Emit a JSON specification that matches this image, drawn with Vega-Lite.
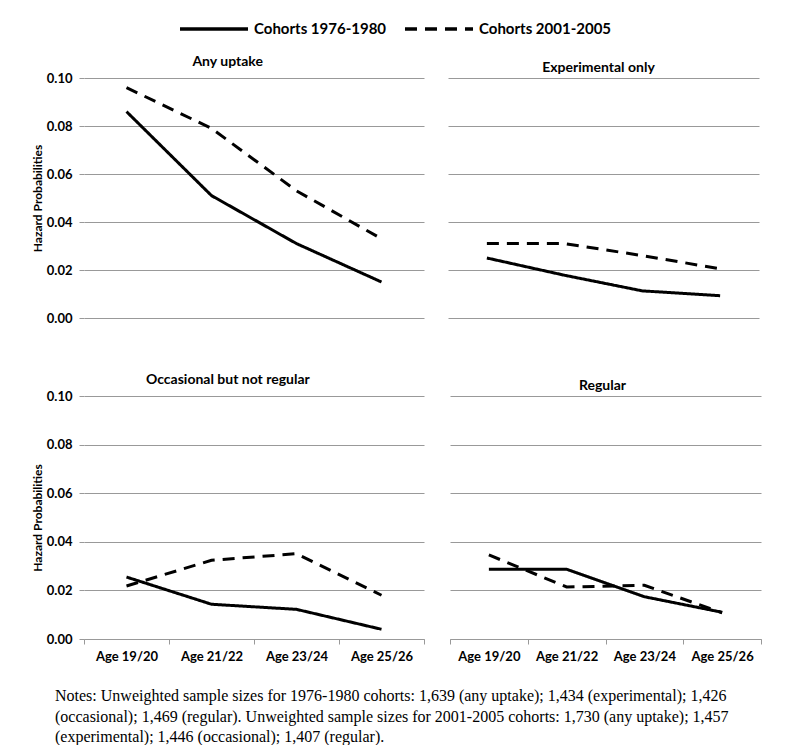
{
  "$schema": "https://vega.github.io/schema/vega-lite/v6.json",
  "padding": {"top": 20, "left": 31, "right": 8, "bottom": 0},
  "background": "white",
  "datasets": {
    "hz": [
      {"panel": "Any uptake", "age": "Age 19/20", "cohort": "Cohorts 1976-1980", "value": 0.086},
      {"panel": "Any uptake", "age": "Age 21/22", "cohort": "Cohorts 1976-1980", "value": 0.051},
      {"panel": "Any uptake", "age": "Age 23/24", "cohort": "Cohorts 1976-1980", "value": 0.031},
      {"panel": "Any uptake", "age": "Age 25/26", "cohort": "Cohorts 1976-1980", "value": 0.015},
      {"panel": "Any uptake", "age": "Age 19/20", "cohort": "Cohorts 2001-2005", "value": 0.096},
      {"panel": "Any uptake", "age": "Age 21/22", "cohort": "Cohorts 2001-2005", "value": 0.079},
      {"panel": "Any uptake", "age": "Age 23/24", "cohort": "Cohorts 2001-2005", "value": 0.053},
      {"panel": "Any uptake", "age": "Age 25/26", "cohort": "Cohorts 2001-2005", "value": 0.033},
      {"panel": "Experimental only", "age": "Age 19/20", "cohort": "Cohorts 1976-1980", "value": 0.025},
      {"panel": "Experimental only", "age": "Age 21/22", "cohort": "Cohorts 1976-1980", "value": 0.0178},
      {"panel": "Experimental only", "age": "Age 23/24", "cohort": "Cohorts 1976-1980", "value": 0.0113},
      {"panel": "Experimental only", "age": "Age 25/26", "cohort": "Cohorts 1976-1980", "value": 0.0093},
      {"panel": "Experimental only", "age": "Age 19/20", "cohort": "Cohorts 2001-2005", "value": 0.031},
      {"panel": "Experimental only", "age": "Age 21/22", "cohort": "Cohorts 2001-2005", "value": 0.031},
      {"panel": "Experimental only", "age": "Age 23/24", "cohort": "Cohorts 2001-2005", "value": 0.026},
      {"panel": "Experimental only", "age": "Age 25/26", "cohort": "Cohorts 2001-2005", "value": 0.0205},
      {"panel": "Occasional but not regular", "age": "Age 19/20", "cohort": "Cohorts 1976-1980", "value": 0.0255},
      {"panel": "Occasional but not regular", "age": "Age 21/22", "cohort": "Cohorts 1976-1980", "value": 0.0143},
      {"panel": "Occasional but not regular", "age": "Age 23/24", "cohort": "Cohorts 1976-1980", "value": 0.0122},
      {"panel": "Occasional but not regular", "age": "Age 25/26", "cohort": "Cohorts 1976-1980", "value": 0.004},
      {"panel": "Occasional but not regular", "age": "Age 19/20", "cohort": "Cohorts 2001-2005", "value": 0.0218},
      {"panel": "Occasional but not regular", "age": "Age 21/22", "cohort": "Cohorts 2001-2005", "value": 0.0324},
      {"panel": "Occasional but not regular", "age": "Age 23/24", "cohort": "Cohorts 2001-2005", "value": 0.0351},
      {"panel": "Occasional but not regular", "age": "Age 25/26", "cohort": "Cohorts 2001-2005", "value": 0.018},
      {"panel": "Regular", "age": "Age 19/20", "cohort": "Cohorts 1976-1980", "value": 0.0287},
      {"panel": "Regular", "age": "Age 21/22", "cohort": "Cohorts 1976-1980", "value": 0.0287},
      {"panel": "Regular", "age": "Age 23/24", "cohort": "Cohorts 1976-1980", "value": 0.0174},
      {"panel": "Regular", "age": "Age 25/26", "cohort": "Cohorts 1976-1980", "value": 0.011},
      {"panel": "Regular", "age": "Age 19/20", "cohort": "Cohorts 2001-2005", "value": 0.0346},
      {"panel": "Regular", "age": "Age 21/22", "cohort": "Cohorts 2001-2005", "value": 0.0214},
      {"panel": "Regular", "age": "Age 23/24", "cohort": "Cohorts 2001-2005", "value": 0.0221},
      {"panel": "Regular", "age": "Age 25/26", "cohort": "Cohorts 2001-2005", "value": 0.0108}
    ]
  },
  "title": {
    "text": [
      "Notes: Unweighted sample sizes for 1976-1980 cohorts: 1,639 (any uptake); 1,434 (experimental); 1,426",
      "(occasional); 1,469 (regular). Unweighted sample sizes for 2001-2005 cohorts: 1,730 (any uptake); 1,457",
      "(experimental); 1,446 (occasional); 1,407 (regular)."
    ],
    "orient": "bottom",
    "anchor": "start",
    "frame": "group",
    "dx": -29,
    "offset": 25,
    "font": "Liberation Serif",
    "fontSize": 16,
    "fontWeight": "normal",
    "color": "black",
    "lineHeight": 20.5
  },
  "vconcat": [
    {
      "hconcat": [
        {
          "width": 340, "height": 240,
          "title": {"text": "Any uptake", "font": "Lato", "fontSize": 14, "fontWeight": "bold", "color": "black", "offset": 3, "anchor": "middle", "frame": "bounds", "orient": "top", "dx": 0, "lineHeight": 16},
          "data": {"name": "hz"},
          "transform": [{"filter": "datum.panel === 'Any uptake'"}],
          "mark": {"type": "line", "color": "black", "strokeWidth": 3},
          "encoding": {
            "x": {"field": "age", "type": "ordinal", "bandPosition": 0.5, "scale": {"type": "band", "paddingInner": 0, "paddingOuter": 0}, "axis": null},
            "y": {"field": "value", "type": "quantitative", "scale": {"domain": [0, 0.1]}, "axis": {"title": "Hazard Probabilities", "values": [0, 0.02, 0.04, 0.06, 0.08, 0.1], "format": ".2f"}},
            "strokeDash": {"field": "cohort", "type": "nominal", "scale": {"domain": ["Cohorts 1976-1980", "Cohorts 2001-2005"], "range": [[1, 0], [12, 8]]},
              "legend": {"title": null, "orient": "none", "legendX": 121, "legendY": -58, "direction": "horizontal", "symbolType": "M-5,0H5", "symbolSize": 185, "symbolStrokeWidth": 3.5, "symbolStrokeColor": "black", "labelFont": "Lato", "labelFontSize": 15, "labelFontWeight": "bold", "labelColor": "black", "labelOffset": 31, "columnPadding": 10, "padding": 0}}
          }
        },
        {
          "width": 311, "height": 240,
          "title": {"text": "Experimental only", "font": "Lato", "fontSize": 14, "fontWeight": "bold", "color": "black", "offset": 3, "anchor": "middle", "frame": "bounds", "orient": "top", "dx": -5, "lineHeight": 16},
          "data": {"name": "hz"},
          "transform": [{"filter": "datum.panel === 'Experimental only'"}],
          "mark": {"type": "line", "color": "black", "strokeWidth": 3},
          "encoding": {
            "x": {"field": "age", "type": "ordinal", "bandPosition": 0.5, "scale": {"type": "band", "paddingInner": 0, "paddingOuter": 0}, "axis": null},
            "y": {"field": "value", "type": "quantitative", "scale": {"domain": [0, 0.1]}, "axis": {"title": null, "values": [0, 0.02, 0.04, 0.06, 0.08, 0.1], "labels": false, "ticks": false, "domain": false}},
            "strokeDash": {"field": "cohort", "type": "nominal"}
          }
        }
      ],
      "spacing": 24
    },
    {
      "hconcat": [
        {
          "width": 340, "height": 243,
          "title": {"text": "Occasional but not regular", "font": "Lato", "fontSize": 14, "fontWeight": "bold", "color": "black", "offset": 3, "anchor": "middle", "frame": "bounds", "orient": "top", "dx": 0, "lineHeight": 16},
          "data": {"name": "hz"},
          "transform": [{"filter": "datum.panel === 'Occasional but not regular'"}],
          "mark": {"type": "line", "color": "black", "strokeWidth": 3},
          "encoding": {
            "x": {"field": "age", "type": "ordinal", "bandPosition": 0.5, "scale": {"type": "band", "paddingInner": 0, "paddingOuter": 0}, "axis": {"title": null, "tickBand": "extent", "labelAngle": 0}},
            "y": {"field": "value", "type": "quantitative", "scale": {"domain": [0, 0.1]}, "axis": {"title": "Hazard Probabilities", "values": [0, 0.02, 0.04, 0.06, 0.08, 0.1], "format": ".2f"}},
            "strokeDash": {"field": "cohort", "type": "nominal"}
          }
        },
        {
          "width": 311, "height": 243,
          "title": {"text": "Regular", "font": "Lato", "fontSize": 14, "fontWeight": "bold", "color": "black", "offset": 3, "anchor": "middle", "frame": "bounds", "orient": "top", "dx": -3, "lineHeight": 16},
          "data": {"name": "hz"},
          "transform": [{"filter": "datum.panel === 'Regular'"}],
          "mark": {"type": "line", "color": "black", "strokeWidth": 3},
          "encoding": {
            "x": {"field": "age", "type": "ordinal", "bandPosition": 0.5, "scale": {"type": "band", "paddingInner": 0, "paddingOuter": 0}, "axis": {"title": null, "tickBand": "extent", "labelAngle": 0}},
            "y": {"field": "value", "type": "quantitative", "scale": {"domain": [0, 0.1]}, "axis": {"title": null, "values": [0, 0.02, 0.04, 0.06, 0.08, 0.1], "labels": false, "ticks": false, "domain": false}},
            "strokeDash": {"field": "cohort", "type": "nominal"}
          }
        }
      ],
      "spacing": 24
    }
  ],
  "spacing": 48,
  "resolve": {"scale": {"x": "independent", "y": "independent"}},
  "config": {
    "view": {"stroke": null},
    "axis": {
      "gridColor": "#999999", "gridWidth": 1,
      "domainColor": "#999999", "tickColor": "#999999", "tickSize": 5,
      "labelFont": "Lato", "labelFontSize": 13, "labelFontWeight": "bold", "labelColor": "black",
      "titleFont": "Lato", "titleFontSize": 12, "titleFontWeight": "bold", "titleColor": "black"
    },
    "axisY": {"domain": false, "labelPadding": 7, "titlePadding": 2, "grid": true},
    "axisX": {"grid": false, "labelPadding": 6}
  }
}
